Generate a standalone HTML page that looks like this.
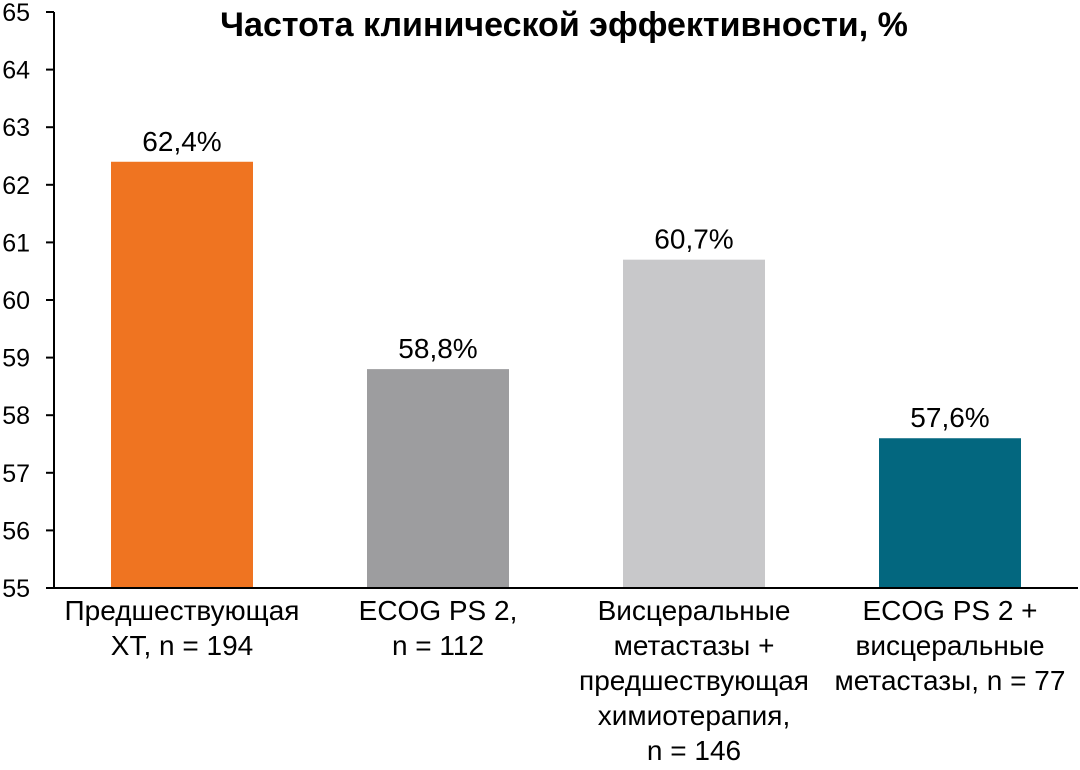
<!DOCTYPE html>
<html><head><meta charset="utf-8"><style>
body{margin:0;background:#fff;}
svg text{font-family:"Liberation Sans",sans-serif;fill:#000;}
</style></head><body>
<svg width="1080" height="765">
<text x="564" y="36" font-size="34" font-weight="bold" text-anchor="middle">Частота клинической эффективности, %</text>
<g id="plot"></g>
</svg>
<script>
const categories=[["Предшествующая","ХТ, n = 194"],["ECOG PS 2,","n = 112"],["Висцеральные","метастазы +","предшествующая","химиотерапия,","n = 146"],["ECOG PS 2 +","висцеральные","метастазы, n = 77"]];
const values=[62.4,58.8,60.7,57.6];
const valueLabels=["62,4%","58,8%","60,7%","57,6%"];
const colors=["#ef7421","#9d9d9f","#c8c8ca","#03677f"];
const yTicks=[55,56,57,58,59,60,61,62,63,64,65];
const NS="http://www.w3.org/2000/svg";
const g=document.getElementById('plot');
const x0=54,x1=1078,yTop=12,yBot=588,yMin=55,yMax=65;
const y=v=>yBot-(v-yMin)/(yMax-yMin)*(yBot-yTop);
const band=(x1-x0)/categories.length;
const cx=i=>x0+band*(i+0.5);
function el(t,a){const e=document.createElementNS(NS,t);for(const k in a)e.setAttribute(k,a[k]);g.appendChild(e);return e;}
values.forEach((v,i)=>{
 const r=el('rect',{x:cx(i)-71,y:y(v),width:142,height:yBot-y(v),fill:colors[i]});
 
 
 const t=el('text',{x:cx(i),y:y(v)-11,'font-size':28,'text-anchor':'middle'});
 t.textContent=valueLabels[i];
 
 
 categories[i].forEach((line,j)=>{
  const c=el('text',{x:cx(i),y:620+j*35,'font-size':28,'text-anchor':'middle'});
  c.textContent=line;
  
  
 });
});
const ax=el('line',{x1:x0,x2:x0,y1:yTop,y2:yBot,stroke:'#000','stroke-width':2});


const bx=el('line',{x1:x0-8,x2:x1,y1:yBot,y2:yBot,stroke:'#000','stroke-width':2});


yTicks.forEach(v=>{
 const tk=el('line',{x1:x0-8,x2:x0,y1:y(v),y2:y(v),stroke:'#000','stroke-width':2});
 
 
 const t=el('text',{x:30,y:y(v)+9,'font-size':25,'text-anchor':'end'});
 t.textContent=v;
 
 
});
</script>
</body></html>
